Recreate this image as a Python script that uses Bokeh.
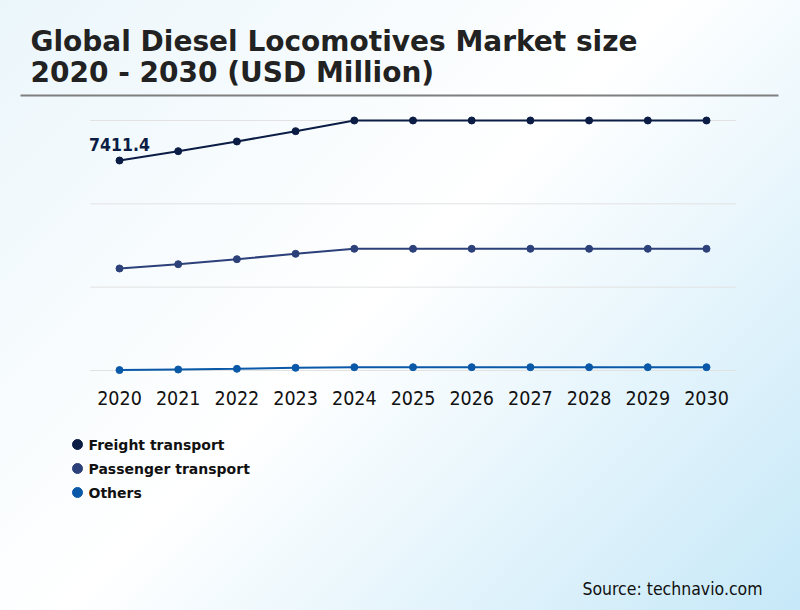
from bokeh.plotting import figure
from bokeh.layouts import column
from bokeh.models import FixedTicker, Label, Range1d
from bokeh.core.properties import value
from bokeh.embed import file_html
from bokeh.resources import INLINE

# ---- data ----
years = [2020, 2021, 2022, 2023, 2024, 2025, 2026, 2027, 2028, 2029, 2030]
tick_labels = ["2020", "2021", "2022", "2023", "2024", "2025", "2026", "2027", "2028", "2029", "2030"]
freight = [7411.4, 7740, 8082, 8446, 8823, 8823, 8823, 8823, 8823, 8823, 8823]
passenger = [3600, 3751, 3928, 4118, 4295, 4295, 4295, 4295, 4295, 4295, 4295]
others = [15, 35, 60, 95, 116, 116, 116, 116, 116, 116, 116]
grid_values = [0, 2941, 5882, 8823]
series_names = ["Freight transport", "Passenger transport", "Others"]
series_colors = ["#0b1c45", "#2c4079", "#0a59a8"]
title_lines = ["Global Diesel Locomotives Market size", "2020 - 2030 (USD Million)"]
source_text = "Source: technavio.com"

FONT_C = "DejaVu Sans Condensed"
FONT = "DejaVu Sans"
W = 800
FRAME_H = 384
H1 = FRAME_H + 40     # chart figure height (frame + axis panel)
H2 = 610 - H1         # footer figure height

# pixel <-> data helpers for the chart figure (frame spans the whole width)
YR_PX = 58.7                      # pixels per year
VAL_PX = 35.29                    # value units per pixel
x_start = years[0] - 119 / YR_PX
x_end = x_start + W / YR_PX
y_end = 370 * VAL_PX
y_start = y_end - FRAME_H * VAL_PX


def cx(px):
    return x_start + px / YR_PX


def cy(py):
    return y_end - py * VAL_PX


p = figure(width=W, height=H1, output_backend="svg", toolbar_location=None,
           x_range=Range1d(x_start, x_end), y_range=Range1d(y_start, y_end),
           y_axis_location=None,
           min_border_left=0, min_border_right=0, min_border_top=0, min_border_bottom=H1 - FRAME_H)
p.border_fill_color = None
p.background_fill_color = None
p.outline_line_color = None
p.xgrid.visible = False
p.ygrid.visible = False

ax = p.xaxis[0]
ax.ticker = FixedTicker(ticks=years)
ax.major_label_overrides = {y: t for y, t in zip(years, tick_labels)}
ax.axis_line_color = None
ax.major_tick_line_color = None
ax.minor_tick_line_color = None
ax.major_tick_out = 0
ax.major_tick_in = 0
ax.major_label_standoff = 6
ax.major_label_text_font = FONT_C
ax.major_label_text_font_size = "19.5px"
ax.major_label_text_color = "#111111"

# horizontal grid lines spanning the category band only
n = len(grid_values)
p.segment(x0=[years[0] - 0.5] * n, x1=[years[-1] + 0.5] * n, y0=grid_values, y1=grid_values,
          line_color="#e2e2e2", line_width=1)

for vals, col in zip([freight, passenger, others], series_colors):
    p.line(years, vals, line_color=col, line_width=2)
    p.scatter(years, vals, size=7, fill_color=col, line_color=col)

p.add_layout(Label(x=years[0], y=freight[0], text=f"{freight[0]}", text_align="center",
                   text_baseline="middle", y_offset=16, text_font=FONT_C,
                   text_font_size="17.5px", text_font_style="bold", text_color=series_colors[0]))

# title and separator
for i, line in enumerate(title_lines):
    p.add_layout(Label(x=cx(30), y=cy(41 + 31 * i), text=line,
                       text_font=FONT, text_font_size="28px", text_font_style="bold",
                       text_color="#222222", text_baseline="middle", text_align="left"))
p.segment(x0=[cx(20)], x1=[cx(778)], y0=[cy(95)], y1=[cy(95)], line_color="#7f7f7f", line_width=2)

# ---- footer: legend + source ----
f = figure(width=W, height=H2, output_backend="svg", toolbar_location=None,
           x_range=Range1d(0, W), y_range=Range1d(H2, 0),
           x_axis_location=None, y_axis_location=None,
           min_border_left=0, min_border_right=0, min_border_top=0, min_border_bottom=0)
f.border_fill_color = None
f.background_fill_color = None
f.outline_line_color = None
f.xgrid.visible = False
f.ygrid.visible = False

top0 = 444 - H1
leg_y = [top0 + 24 * i for i in range(len(series_names))]
f.scatter(x=[77] * len(series_names), y=leg_y, size=10, fill_color=series_colors,
          line_color=series_colors)
f.text(x=[88] * len(series_names), y=leg_y, text=series_names, text_font=value(FONT),
       text_font_size="14px", text_font_style="bold", text_color="#111111",
       text_baseline="middle", text_align="left")
f.text(x=[762], y=[588.5 - H1], text=[source_text], text_font=value(FONT_C),
       text_font_size="17.5px", text_color="#111111", text_baseline="middle", text_align="right")

layout = column(p, f, spacing=0)
layout.styles = {"background": "linear-gradient(135deg, #ebf6fb 0%, #ffffff 48%, #c6e8f8 100%)"}

open("out.html", "w").write(file_html(layout, INLINE))
